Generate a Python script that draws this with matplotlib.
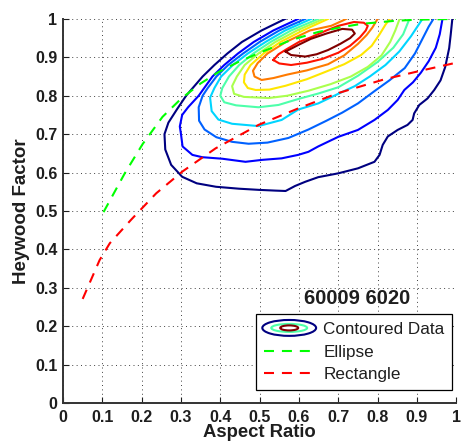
import numpy as np
import matplotlib
matplotlib.use('Agg')
import matplotlib.pyplot as plt
from matplotlib.patches import Ellipse
from matplotlib.legend_handler import HandlerBase
from matplotlib.lines import Line2D

plt.rcParams['font.family'] = ['Liberation Sans', 'DejaVu Sans']

# contour lines of the density (outer -> inner level)
c1_x = [0.565, 0.505, 0.455, 0.418, 0.385, 0.355, 0.313, 0.29, 0.268, 0.258, 0.26, 0.275, 0.303, 0.34, 0.389, 0.447, 0.497, 0.54, 0.566, 0.59, 0.616, 0.649, 0.70, 0.75, 0.792, 0.805, 0.813, 0.826, 0.851, 0.876, 0.889, 0.893, 0.906, 0.927, 0.944, 0.96, 0.972, 0.982, 0.986, 0.99]
c1_y = [1.0, 0.97, 0.94, 0.91, 0.88, 0.85, 0.80, 0.765, 0.73, 0.70, 0.66, 0.62, 0.589, 0.572, 0.563, 0.558, 0.555, 0.553, 0.552, 0.565, 0.576, 0.588, 0.598, 0.611, 0.628, 0.646, 0.672, 0.694, 0.711, 0.724, 0.737, 0.754, 0.776, 0.793, 0.815, 0.84, 0.875, 0.924, 0.96, 1.0]
c2_x = [0.598, 0.535, 0.485, 0.445, 0.41, 0.38, 0.345, 0.318, 0.303, 0.297, 0.30, 0.304, 0.329, 0.354, 0.405, 0.464, 0.506, 0.556, 0.598, 0.624, 0.649, 0.70, 0.75, 0.792, 0.826, 0.851, 0.868, 0.89, 0.91, 0.93, 0.948, 0.958, 0.965]
c2_y = [1.0, 0.97, 0.94, 0.91, 0.88, 0.85, 0.80, 0.77, 0.75, 0.72, 0.70, 0.668, 0.646, 0.64, 0.636, 0.628, 0.633, 0.637, 0.646, 0.654, 0.668, 0.693, 0.711, 0.737, 0.763, 0.789, 0.815, 0.835, 0.86, 0.89, 0.925, 0.96, 1.0]
c3_x = [0.616, 0.55, 0.50, 0.458, 0.42, 0.39, 0.368, 0.355, 0.345, 0.346, 0.36, 0.39, 0.43, 0.472, 0.52, 0.573, 0.624, 0.67, 0.71, 0.75, 0.792, 0.83, 0.869, 0.895, 0.915, 0.93, 0.942]
c3_y = [1.0, 0.97, 0.94, 0.91, 0.88, 0.85, 0.82, 0.80, 0.77, 0.735, 0.712, 0.692, 0.68, 0.675, 0.678, 0.69, 0.712, 0.735, 0.756, 0.78, 0.812, 0.84, 0.872, 0.91, 0.95, 0.98, 1.0]
c4_x = [0.631, 0.565, 0.515, 0.47, 0.432, 0.402, 0.385, 0.374, 0.378, 0.395, 0.43, 0.497, 0.556, 0.598, 0.649, 0.70, 0.742, 0.78, 0.82, 0.855, 0.885, 0.914]
c4_y = [1.0, 0.97, 0.94, 0.91, 0.88, 0.85, 0.82, 0.795, 0.76, 0.738, 0.727, 0.721, 0.737, 0.764, 0.78, 0.805, 0.825, 0.85, 0.88, 0.915, 0.955, 1.0]
c5_x = [0.649, 0.58, 0.528, 0.484, 0.448, 0.422, 0.405, 0.40, 0.41, 0.44, 0.497, 0.548, 0.60, 0.65, 0.70, 0.75, 0.80, 0.84, 0.865, 0.881]
c5_y = [1.0, 0.97, 0.94, 0.91, 0.88, 0.85, 0.82, 0.80, 0.783, 0.775, 0.77, 0.776, 0.792, 0.806, 0.822, 0.852, 0.888, 0.925, 0.96, 1.0]
c6_x = [0.662, 0.595, 0.54, 0.497, 0.462, 0.442, 0.43, 0.435, 0.46, 0.523, 0.57, 0.624, 0.68, 0.732, 0.775, 0.81, 0.832, 0.845, 0.856]
c6_y = [1.0, 0.97, 0.94, 0.91, 0.88, 0.85, 0.825, 0.805, 0.797, 0.794, 0.80, 0.813, 0.83, 0.85, 0.875, 0.905, 0.94, 0.97, 1.0]
c7_x = [0.674, 0.61, 0.553, 0.51, 0.477, 0.462, 0.46, 0.47, 0.49, 0.525, 0.566, 0.62, 0.667, 0.715, 0.758, 0.785, 0.805, 0.82, 0.831]
c7_y = [1.0, 0.97, 0.94, 0.91, 0.88, 0.855, 0.835, 0.82, 0.815, 0.816, 0.826, 0.843, 0.862, 0.882, 0.906, 0.93, 0.96, 0.985, 1.0]
c8_x = [0.72, 0.71, 0.682, 0.628, 0.567, 0.52, 0.495, 0.483, 0.487, 0.505, 0.535, 0.57, 0.62, 0.674, 0.715, 0.75, 0.772, 0.787, 0.80]
c8_y = [1.0, 0.995, 0.982, 0.97, 0.94, 0.91, 0.885, 0.865, 0.85, 0.841, 0.846, 0.855, 0.866, 0.882, 0.905, 0.935, 0.958, 0.978, 1.0]
c9_x = [0.535, 0.55, 0.58, 0.62, 0.66, 0.70, 0.73, 0.755, 0.77, 0.775, 0.765, 0.74, 0.70, 0.67, 0.63, 0.60, 0.57, 0.548, 0.535]
c9_y = [0.893, 0.884, 0.88, 0.886, 0.896, 0.912, 0.93, 0.952, 0.97, 0.982, 0.99, 0.992, 0.982, 0.97, 0.952, 0.94, 0.922, 0.908, 0.893]
c10_x = [0.566, 0.58, 0.616, 0.645, 0.674, 0.705, 0.73, 0.742, 0.735, 0.71, 0.67, 0.63, 0.598, 0.566]
c10_y = [0.915, 0.906, 0.902, 0.908, 0.919, 0.935, 0.95, 0.962, 0.972, 0.974, 0.962, 0.948, 0.932, 0.915]

# theoretical shape curves
ellipse_ar = [0.103, 0.157, 0.203, 0.253, 0.30, 0.35, 0.396, 0.45, 0.505, 0.58, 0.649, 0.70, 0.758, 0.843, 0.9, 1.0]
ellipse_hf = [0.497, 0.598, 0.675, 0.745, 0.792, 0.832, 0.862, 0.89, 0.914, 0.945, 0.966, 0.977, 0.987, 0.995, 0.998, 1.0]
rect_ar = [0.05, 0.093, 0.119, 0.173, 0.237, 0.304, 0.388, 0.497, 0.598, 0.70, 0.818, 0.909, 1.0]
rect_hf = [0.271, 0.372, 0.416, 0.477, 0.546, 0.603, 0.663, 0.724, 0.767, 0.807, 0.843, 0.865, 0.886]

ticks = [0, 0.1, 0.2, 0.3, 0.4, 0.5, 0.6, 0.7, 0.8, 0.9, 1.0]
tick_labels = ['0', '0.1', '0.2', '0.3', '0.4', '0.5', '0.6', '0.7', '0.8', '0.9', '1']

cx = [c1_x, c2_x, c3_x, c4_x, c5_x, c6_x, c7_x, c8_x, c9_x, c10_x]
cy = [c1_y, c2_y, c3_y, c4_y, c5_y, c6_y, c7_y, c8_y, c9_y, c10_y]
cols = plt.cm.jet(np.linspace(0, 1, len(cx)))

txtcol = '#1e1e1e'

fig = plt.figure(figsize=(4.61, 4.42), dpi=100)
ax = fig.add_axes([0.1367, 0.0882, 0.853, 0.869])

for xs, ys, col in zip(cx, cy, cols):
    ax.plot(xs, ys, color=col, lw=1.5, solid_joinstyle='round', zorder=3)

l_ell, = ax.plot(ellipse_ar, ellipse_hf, color=(0, 1, 0), lw=1.5, linestyle=(0, (4.8, 3.8)), zorder=4)
l_rect, = ax.plot(rect_ar, rect_hf, color=(1, 0, 0), lw=1.5, linestyle=(0, (4.8, 3.8)), zorder=4)

ax.set_xlim(0, 1)
ax.set_ylim(0, 1)
ax.set_xticks(ticks)
ax.set_xticklabels(tick_labels)
ax.set_yticks(ticks)
ax.set_yticklabels(tick_labels)
ax.tick_params(direction='in', length=4, width=0.8, colors=txtcol, labelsize=11.5)
ax.tick_params(axis='x', pad=5)
ax.tick_params(axis='y', pad=4)
for lab in ax.get_xticklabels() + ax.get_yticklabels():
    lab.set_fontweight('bold')
ax.grid(True, linestyle=(0, (1, 3.5)), color='#404040', linewidth=0.7)
ax.set_axisbelow(True)
for s in ['top', 'right']:
    ax.spines[s].set_visible(False)
for s in ['left', 'bottom']:
    ax.spines[s].set_color('#333333')
    ax.spines[s].set_linewidth(1.4)

ax.set_xlabel('Aspect Ratio', fontsize=13.3, fontweight='bold', color=txtcol, labelpad=-1)
ax.set_ylabel('Heywood Factor', fontsize=13.5, fontweight='bold', color=txtcol, labelpad=4)

ax.text(0.747, 0.272, '60009 6020', ha='center', va='center', fontsize=14.5,
        fontweight='bold', color=txtcol)


class ContourHandler(HandlerBase):
    def create_artists(self, legend, orig_handle, xdescent, ydescent, width, height, fontsize, trans):
        x0 = width / 2 - xdescent
        y0 = height / 2 - ydescent
        arts = []
        for fw, fh, col in [(1.05, 1.33, cols[0]), (0.7, 0.67, cols[4]), (0.35, 0.42, cols[-1])]:
            e = Ellipse((x0, y0), width * fw, height * fh, fill=False, edgecolor=col, lw=1.5, transform=trans)
            arts.append(e)
        return arts


contour_proxy = Line2D([], [])
leg = ax.legend([contour_proxy, l_ell, l_rect], ['Contoured Data', 'Ellipse', 'Rectangle'],
                handler_map={contour_proxy: ContourHandler()},
                loc='lower right', bbox_to_anchor=(0.99, 0.034), bbox_transform=ax.transAxes,
                fontsize=12.3, handlelength=3.0, handletextpad=0.5, labelspacing=0.45,
                borderpad=0.45, borderaxespad=0, fancybox=False, framealpha=1)
leg.get_frame().set_edgecolor('black')
leg.get_frame().set_linewidth(0.9)
for t in leg.get_texts():
    t.set_color(txtcol)
leg.set_zorder(10)

fig.savefig('out.png', dpi=100)
